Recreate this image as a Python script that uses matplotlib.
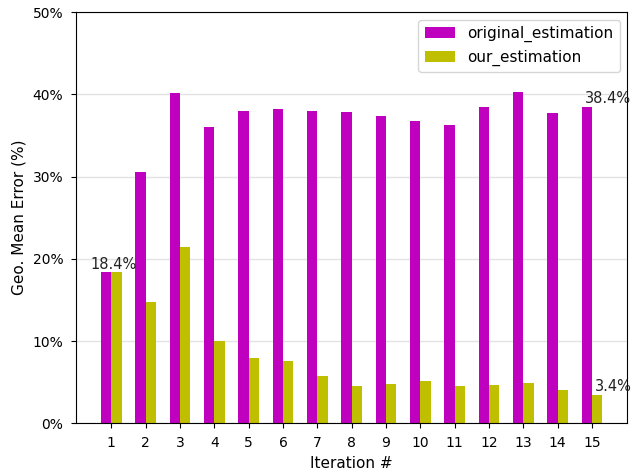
import matplotlib
matplotlib.use("Agg")
import matplotlib.pyplot as plt
import numpy as np
from matplotlib.ticker import FuncFormatter

iterations = list(range(1, 16))
original_estimation = [18.4, 30.5, 40.2, 36.0, 38.0, 38.15, 38.0, 37.9, 37.4, 36.7, 36.3, 38.5, 40.3, 37.7, 38.4]
our_estimation = [18.4, 14.8, 21.4, 10.0, 7.9, 7.6, 5.75, 4.5, 4.8, 5.2, 4.5, 4.6, 4.9, 4.1, 3.4]
yticks = [0, 10, 20, 30, 40, 50]

fig = plt.figure(figsize=(6.31, 4.73), dpi=100)
ax = fig.add_axes([0.1204, 0.105, 0.8736, 0.8696])

x = np.array(iterations)
w = 0.3
ax.bar(x - w / 2, original_estimation, w, color='m', label='original_estimation', zorder=2)
ax.bar(x + w / 2, our_estimation, w, color='y', label='our_estimation', zorder=2)

ax.set_ylim(0, 50)
ax.set_yticks(yticks)
ax.yaxis.set_major_formatter(FuncFormatter(lambda v, p: f"{v:.0f}%"))
ax.set_xticks(iterations)
ax.tick_params(axis='both', labelsize=10, pad=5.7)
ax.yaxis.grid(True, color='#e3e3e3', linewidth=1, zorder=0)
ax.set_axisbelow(True)

ax.set_xlabel('Iteration #', fontsize=11)
ax.set_ylabel('Geo. Mean Error (%)', fontsize=11)

ax.text(0.39, original_estimation[0] + 0.33, f"{original_estimation[0]}%", ha='left', va='baseline', fontsize=10.5, color='#222222')
ax.text(14.8, original_estimation[-1] + 0.5, f"{original_estimation[-1]}%", ha='left', va='baseline', fontsize=10.5, color='#222222')
ax.text(15.1, our_estimation[-1] + 0.5, f"{our_estimation[-1]}%", ha='left', va='baseline', fontsize=10.5, color='#222222')

ax.legend(loc='upper right', fontsize=11)

fig.savefig('out.png', dpi=100)
